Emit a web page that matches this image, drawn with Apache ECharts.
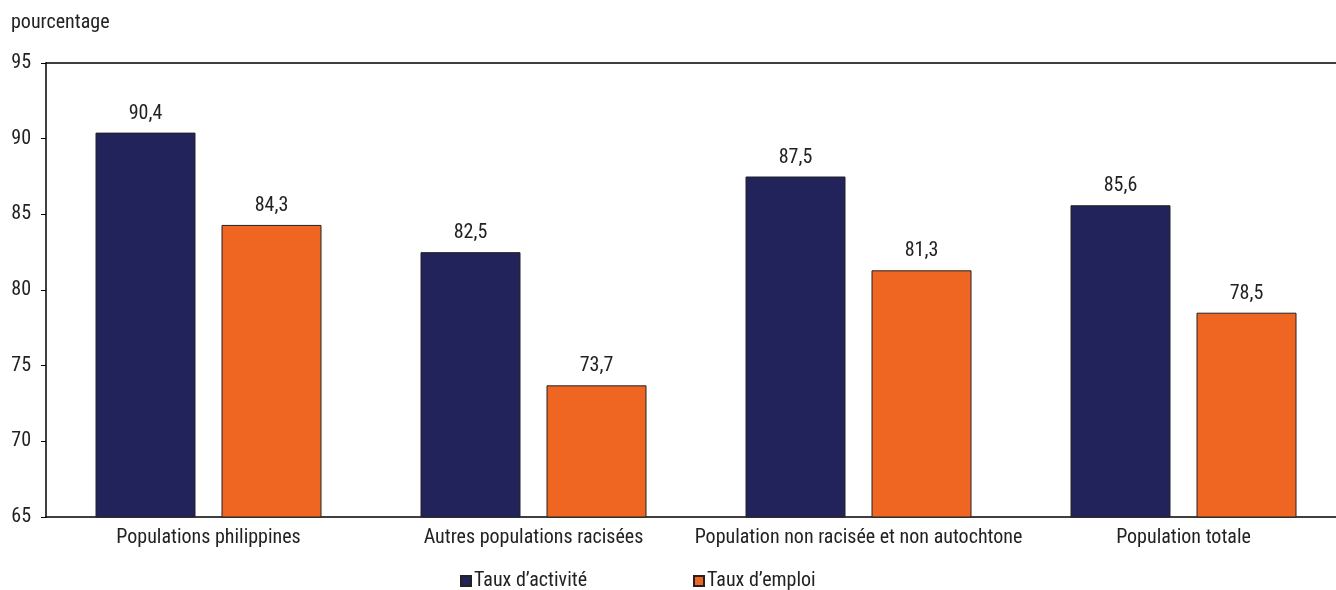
<!DOCTYPE html>
<html>
<head>
<meta charset="utf-8">
<script src="https://cdn.jsdelivr.net/npm/echarts@6/dist/echarts.min.js"></script>
<style>
  html, body { margin: 0; padding: 0; background: #fff; }
  #chart { width: 1336px; height: 590px; }
</style>
</head>
<body>
<div id="chart"></div>
<script>
const categories = [
  'Populations philippines',
  'Autres populations racisées',
  'Population non racisée et non autochtone',
  'Population totale'
]
const tauxActivite = [90.4, 82.5, 87.5, 85.6]
const tauxEmploi = [84.3, 73.7, 81.3, 78.5]
const seriesNames = ['Taux d’activité', 'Taux d’emploi']

const FONT = '"Liberation Sans Narrow", "Roboto Condensed", "Liberation Sans", sans-serif'
const chart = echarts.init(document.getElementById('chart'))

const labelFmt = p => p.value.toFixed(1).replace('.', ',')

chart.setOption({
  backgroundColor: '#fff',
  animation: false,
  textStyle: { fontFamily: FONT, color: '#222' },
  title: {
    text: 'pourcentage',
    left: 6, top: 8,
    textStyle: { fontFamily: FONT, fontSize: 20, fontWeight: 'normal', color: '#222' }
  },
  legend: {
    data: seriesNames,
    left: 460, top: 571, padding: 0,
    itemWidth: 10, itemHeight: 10, itemGap: 106,
    icon: 'rect',
    textStyle: { fontFamily: FONT, fontSize: 20, color: '#222', padding: [0, 0, 0, -2] }
  },
  grid: { left: 46, right: -10, top: 63, bottom: 73, outerBoundsMode: 'none', containLabel: false },
  xAxis: [{
    type: 'category',
    data: categories,
    axisLine: { lineStyle: { color: '#000', width: 1.5 } },
    axisTick: { show: false },
    axisLabel: { interval: 0, fontFamily: FONT, fontSize: 20, color: '#222', margin: 11 }
  }, {
    type: 'category',
    data: categories,
    position: 'top',
    axisLine: { lineStyle: { color: '#000', width: 1.5 } },
    axisTick: { show: false },
    axisLabel: { show: false }
  }],
  yAxis: {
    type: 'value',
    min: 65, max: 95, interval: 5,
    axisLine: { show: true, lineStyle: { color: '#000', width: 1.5 } },
    axisTick: { show: true, length: 5, lineStyle: { color: '#000' } },
    splitLine: { show: false },
    axisLabel: { fontFamily: FONT, fontSize: 20, color: '#222', margin: 15 }
  },
  series: [{
    name: seriesNames[0],
    type: 'bar',
    data: tauxActivite,
    barWidth: 100,
    barGap: '26%',
    itemStyle: { color: '#22235b', borderColor: '#222', borderWidth: 1 },
    label: { show: true, position: 'top', distance: 9, fontFamily: FONT, fontSize: 20, color: '#222', formatter: labelFmt }
  }, {
    name: seriesNames[1],
    type: 'bar',
    data: tauxEmploi,
    barWidth: 100,
    itemStyle: { color: '#ef6623', borderColor: '#222', borderWidth: 1 },
    label: { show: true, position: 'top', distance: 9, fontFamily: FONT, fontSize: 20, color: '#222', formatter: labelFmt }
  }]
})
</script>
</body>
</html>
